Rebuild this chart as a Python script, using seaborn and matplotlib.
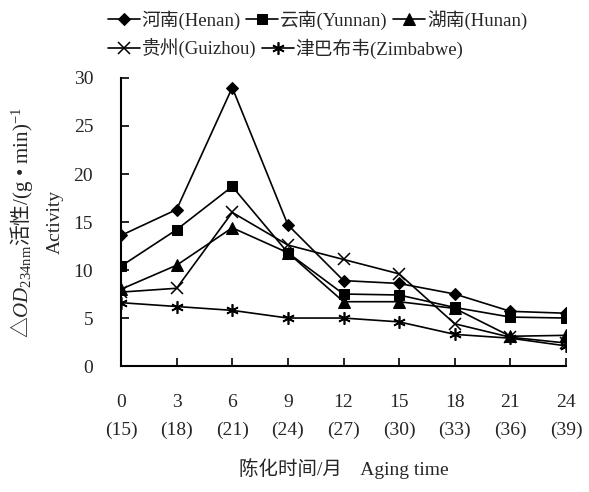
import matplotlib
matplotlib.use('Agg')
import matplotlib.pyplot as plt
import seaborn as sns

# Aging time (months) and the matching total age in brackets
months = [0, 3, 6, 9, 12, 15, 18, 21, 24]
total_age = [15, 18, 21, 24, 27, 30, 33, 36, 39]

# Activity values
henan = [13.6, 16.3, 29.0, 14.7, 8.9, 8.6, 7.5, 5.7, 5.5]
yunnan = [10.4, 14.2, 18.7, 11.8, 7.5, 7.4, 6.1, 5.1, 5.0]
hunan = [8.0, 10.5, 14.4, 11.8, 6.7, 6.7, 6.0, 3.1, 3.2]
guizhou = [7.7, 8.1, 16.0, 12.6, 11.1, 9.6, 4.4, 3.0, 2.4]
zimbabwe = [6.6, 6.2, 5.8, 5.0, 5.0, 4.6, 3.3, 2.9, 2.1]

series_names = ['河南(Henan)', '云南(Yunnan)', '湖南(Hunan)', '贵州(Guizhou)', '津巴布韦(Zimbabwe)']
series_values = [henan, yunnan, hunan, guizhou, zimbabwe]

sns.set_style('ticks')
plt.rcParams['font.family'] = ['Liberation Serif', 'Noto Sans CJK SC', 'DejaVu Sans']
plt.rcParams['mathtext.fontset'] = 'custom'
plt.rcParams['mathtext.rm'] = 'Liberation Serif'
plt.rcParams['mathtext.it'] = 'Liberation Serif:italic'
plt.rcParams['mathtext.sf'] = 'Noto Sans CJK SC'
plt.rcParams['xtick.direction'] = 'in'
plt.rcParams['ytick.direction'] = 'in'

fig = plt.figure(figsize=(5.89, 4.92), dpi=100)
ax = fig.add_axes([0.2054, 0.256, 0.7556, 0.5855])

styles = [
    dict(marker='D', markersize=6.5),
    dict(marker='s', markersize=7.5),
    dict(marker='^', markersize=8),
    dict(marker='x', markersize=8, markeredgewidth=1.1),
    dict(marker=(6, 2, 0), markersize=9, markeredgewidth=1.2),
]

for name, vals, st in zip(series_names, series_values, styles):
    sns.lineplot(x=months, y=vals, ax=ax, color='black', linewidth=1.2,
                 markeredgecolor='black', markerfacecolor='black',
                 label=name, **st)

ax.set_xlim(0, 24)
ax.set_ylim(0, 30)
ax.set_yticks([0, 5, 10, 15, 20, 25, 30])
ax.set_xticks(months)
ax.set_xticklabels([f'{m}\n({a})' for m, a in zip(months, total_age)])
for lbl in ax.get_xticklabels():
    lbl.set_linespacing(1.8)
ax.tick_params(axis='both', labelsize=14, length=6, width=1.2, color='black', pad=20)
ax.tick_params(axis='y', pad=20)
for s in ['left', 'bottom']:
    ax.spines[s].set_linewidth(1.5)
    ax.spines[s].set_color('black')
sns.despine(ax=ax)
ax.set_xlabel('')
ax.set_ylabel('')

fig.text(0.583, 0.048, '陈化时间/月    Aging time', ha='center', va='center', fontsize=14)
fig.text(0.037, 0.548,
         '$\\mathsf{△}\\mathit{OD}_{\\mathrm{234nm}}\\mathsf{活性}$/(g • min)$^{-1}$',
         rotation=90, ha='center', va='center', fontsize=15)
fig.text(0.094, 0.548, 'Activity', rotation=90, ha='center', va='center', fontsize=14)

handles, labels = ax.get_legend_handles_labels()
ax.get_legend().remove()
leg_kw = dict(loc='upper left', frameon=False, fontsize=13.5, handlelength=1.7,
              handletextpad=0.1, columnspacing=0.3, borderpad=0, borderaxespad=0)
leg1 = fig.legend(handles[:3], labels[:3], ncol=3,
                  bbox_to_anchor=(0.183, 0.98), **leg_kw)
leg2 = fig.legend(handles[3:], labels[3:], ncol=2,
                  bbox_to_anchor=(0.183, 0.922), **leg_kw)

fig.savefig('out.png', dpi=100)
